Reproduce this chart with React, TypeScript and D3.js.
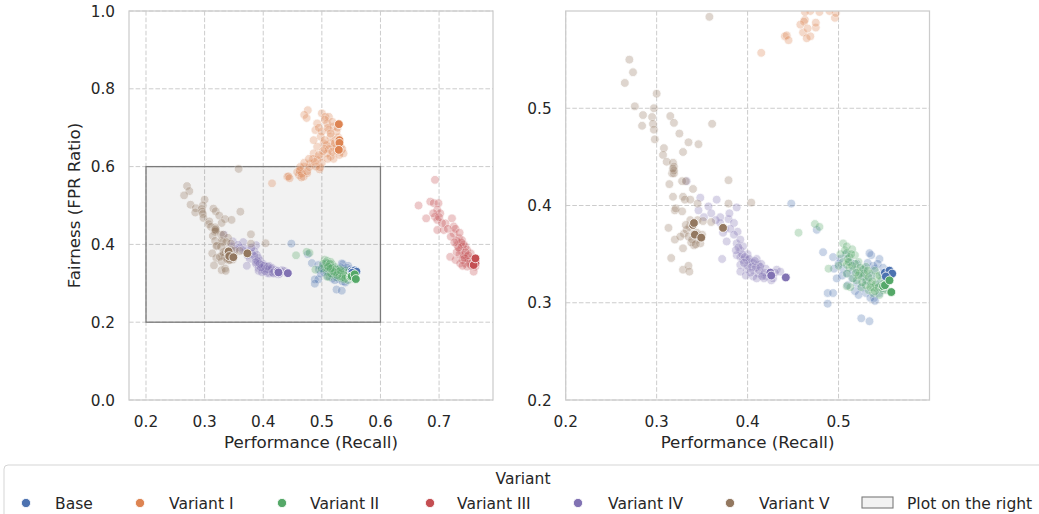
import React from "react";
import * as d3 from "d3";

type P = [number, number];

const variants = ["Base", "Variant I", "Variant II", "Variant III", "Variant IV", "Variant V"];
const colors = ["#4C72B0", "#DD8452", "#55A868", "#C44E52", "#8172B3", "#937860"];

const baseRuns: P[] = [
  [0.448,0.402],[0.476,0.375],[0.483,0.352],[0.494,0.347],[0.488,0.310],[0.494,0.310],[0.488,0.299],
  [0.525,0.284],[0.534,0.281],[0.536,0.349],[0.539,0.305],[0.500,0.340],[0.505,0.335],[0.510,0.330],
  [0.515,0.325],[0.520,0.320],[0.525,0.315],[0.530,0.310],[0.535,0.305],[0.540,0.302],[0.545,0.310],
  [0.545,0.345],[0.540,0.335],[0.548,0.330],[0.520,0.340],[0.528,0.335],[0.513,0.342],[0.502,0.345],
  [0.495,0.335],[0.498,0.325],[0.510,0.318],[0.518,0.312],[0.530,0.322],[0.536,0.328],[0.545,0.320],
  [0.550,0.315],[0.525,0.328],[0.508,0.350],[0.534,0.351],[0.538,0.338],[0.522,0.308],[0.543,0.340],
  [0.549,0.336],[0.532,0.341],[0.516,0.333],[0.504,0.328],
];
const variant1Runs: P[] = [
  [0.476,0.745],[0.470,0.733],[0.474,0.725],[0.500,0.737],[0.506,0.728],[0.512,0.728],[0.509,0.711],
  [0.492,0.711],[0.489,0.694],[0.512,0.694],[0.520,0.703],[0.515,0.677],[0.498,0.677],[0.503,0.660],
  [0.492,0.651],[0.520,0.651],[0.532,0.651],[0.532,0.638],[0.537,0.634],[0.509,0.634],[0.498,0.626],
  [0.515,0.626],[0.486,0.634],[0.492,0.617],[0.480,0.608],[0.469,0.600],[0.463,0.591],[0.475,0.583],
  [0.461,0.578],[0.469,0.574],[0.441,0.574],[0.415,0.557],[0.496,0.593],[0.523,0.668],[0.486,0.668],
  [0.443,0.575],[0.445,0.570],[0.458,0.586],[0.462,0.589],[0.466,0.582],[0.475,0.588],[0.465,0.572],
  [0.497,0.598],[0.463,0.599],[0.479,0.599],[0.500,0.690],[0.505,0.645],[0.525,0.640],[0.515,0.660],
  [0.528,0.675],[0.525,0.690],[0.510,0.700],[0.495,0.700],[0.485,0.620],[0.470,0.610],[0.520,0.620],
  [0.530,0.630],[0.535,0.645],[0.500,0.610],[0.490,0.600],[0.508,0.655],[0.512,0.645],[0.518,0.638],
  [0.522,0.660],[0.505,0.668],[0.515,0.685],[0.502,0.640],[0.495,0.630],[0.525,0.650],[0.510,0.620],
  [0.488,0.612],[0.478,0.620],[0.527,0.700],[0.505,0.720],[0.518,0.715],
];
const variant2Runs: P[] = [
  [0.456,0.372],[0.474,0.381],[0.479,0.378],[0.489,0.335],[0.505,0.361],[0.509,0.358],[0.509,0.351],
  [0.512,0.347],[0.518,0.349],[0.505,0.342],[0.509,0.339],[0.512,0.336],[0.520,0.334],[0.523,0.330],
  [0.527,0.327],[0.531,0.323],[0.536,0.320],[0.538,0.316],[0.542,0.315],[0.549,0.313],[0.509,0.330],
  [0.520,0.323],[0.525,0.316],[0.533,0.313],[0.538,0.310],[0.545,0.308],[0.527,0.334],[0.534,0.330],
  [0.542,0.327],[0.547,0.323],[0.513,0.316],[0.509,0.317],[0.500,0.338],[0.502,0.350],[0.515,0.355],
  [0.522,0.342],[0.530,0.337],[0.540,0.333],[0.547,0.318],[0.553,0.313],[0.516,0.325],[0.530,0.318],
  [0.545,0.328],[0.510,0.345],[0.507,0.354],[0.514,0.350],[0.518,0.340],[0.524,0.336],[0.528,0.330],
  [0.533,0.326],[0.537,0.322],[0.541,0.319],[0.544,0.316],[0.522,0.328],[0.519,0.331],[0.526,0.321],
  [0.535,0.316],[0.540,0.312],[0.515,0.338],[0.511,0.342],[0.532,0.333],[0.548,0.315],[0.550,0.320],
];
const variant3Runs: P[] = [
  [0.693,0.566],[0.665,0.500],[0.685,0.510],[0.691,0.506],[0.699,0.506],[0.697,0.489],[0.702,0.480],
  [0.678,0.467],[0.693,0.471],[0.697,0.463],[0.711,0.454],[0.697,0.437],[0.708,0.437],[0.722,0.467],
  [0.725,0.446],[0.725,0.428],[0.734,0.416],[0.739,0.411],[0.731,0.398],[0.739,0.394],[0.745,0.394],
  [0.748,0.386],[0.736,0.386],[0.719,0.368],[0.728,0.360],[0.742,0.368],[0.748,0.368],[0.754,0.360],
  [0.756,0.351],[0.745,0.351],[0.736,0.351],[0.748,0.343],[0.762,0.343],[0.759,0.330],[0.754,0.377],
  [0.742,0.373],[0.730,0.410],[0.720,0.420],[0.735,0.375],[0.750,0.355],[0.755,0.345],[0.740,0.360],
  [0.730,0.380],[0.745,0.380],[0.715,0.440],[0.705,0.455],[0.690,0.480],[0.700,0.470],[0.728,0.440],
  [0.735,0.430],[0.742,0.400],[0.738,0.405],[0.750,0.372],[0.744,0.364],[0.752,0.350],[0.758,0.356],
  [0.740,0.345],[0.733,0.392],[0.726,0.405],
];
const variant4Runs: P[] = [
  [0.333,0.425],[0.348,0.408],[0.366,0.406],[0.388,0.398],[0.357,0.399],[0.370,0.388],[0.379,0.386],
  [0.385,0.382],[0.389,0.373],[0.370,0.382],[0.375,0.376],[0.381,0.376],[0.373,0.372],[0.377,0.363],
  [0.372,0.345],[0.388,0.361],[0.392,0.354],[0.388,0.349],[0.392,0.347],[0.395,0.344],[0.399,0.344],
  [0.403,0.342],[0.406,0.341],[0.412,0.339],[0.392,0.339],[0.399,0.335],[0.406,0.334],[0.412,0.330],
  [0.417,0.329],[0.421,0.327],[0.426,0.323],[0.406,0.327],[0.392,0.332],[0.432,0.334],[0.436,0.332],
  [0.395,0.358],[0.400,0.350],[0.410,0.345],[0.415,0.340],[0.420,0.335],[0.425,0.330],[0.400,0.338],
  [0.413,0.333],[0.418,0.325],[0.428,0.325],[0.410,0.325],[0.398,0.328],[0.392,0.365],[0.385,0.370],
  [0.380,0.392],[0.360,0.392],[0.365,0.385],[0.346,0.395],[0.352,0.388],[0.390,0.357],[0.394,0.350],
  [0.397,0.347],[0.402,0.345],[0.405,0.337],[0.409,0.336],[0.403,0.331],[0.414,0.337],[0.419,0.331],
  [0.423,0.330],[0.408,0.343],[0.396,0.341],[0.416,0.327],[0.427,0.328],[0.430,0.331],[0.387,0.354],
];
const variant5Runs: P[] = [
  [0.358,0.594],[0.270,0.550],[0.274,0.537],[0.265,0.526],[0.300,0.515],[0.276,0.502],[0.297,0.500],
  [0.285,0.493],[0.295,0.491],[0.284,0.482],[0.296,0.484],[0.297,0.478],[0.298,0.468],[0.315,0.492],
  [0.319,0.485],[0.361,0.484],[0.325,0.474],[0.335,0.465],[0.346,0.463],[0.308,0.459],[0.307,0.452],
  [0.329,0.455],[0.311,0.445],[0.318,0.444],[0.319,0.440],[0.317,0.433],[0.319,0.433],[0.314,0.422],
  [0.328,0.425],[0.332,0.425],[0.340,0.417],[0.379,0.426],[0.318,0.409],[0.329,0.409],[0.331,0.406],
  [0.337,0.406],[0.345,0.402],[0.379,0.402],[0.404,0.403],[0.320,0.395],[0.321,0.397],[0.328,0.394],
  [0.337,0.385],[0.345,0.385],[0.351,0.384],[0.360,0.383],[0.313,0.377],[0.320,0.365],[0.330,0.371],
  [0.333,0.375],[0.335,0.368],[0.341,0.371],[0.345,0.365],[0.348,0.361],[0.341,0.359],[0.329,0.356],
  [0.316,0.346],[0.329,0.334],[0.335,0.338],[0.336,0.332],[0.338,0.362],[0.344,0.372],[0.350,0.370],
  [0.336,0.378],[0.326,0.368],[0.319,0.436],[0.318,0.438],[0.332,0.380],[0.339,0.365],[0.343,0.360],
];

const baseFinal: P[] = [[0.551,0.331],[0.556,0.333],[0.559,0.330],[0.552,0.327]];
const variant1Final: P[] = [[0.529,0.709],[0.530,0.668],[0.530,0.661],[0.529,0.643]];
const variant2Final: P[] = [[0.549,0.317],[0.551,0.318],[0.556,0.323],[0.558,0.311]];
const variant3Final: P[] = [[0.762,0.355],[0.762,0.351],[0.759,0.347],[0.762,0.364]];
const variant4Final: P[] = [[0.425,0.331],[0.426,0.328],[0.442,0.326]];
const variant5Final: P[] = [[0.340,0.380],[0.341,0.382],[0.342,0.370],[0.349,0.367],[0.373,0.377]];

const allRuns = [baseRuns, variant1Runs, variant2Runs, variant3Runs, variant4Runs, variant5Runs];
const allFinal = [baseFinal, variant1Final, variant2Final, variant3Final, variant4Final, variant5Final];

const leftXTicks = [0.2, 0.3, 0.4, 0.5, 0.6, 0.7];
const leftYTicks = [0.0, 0.2, 0.4, 0.6, 0.8, 1.0];
const rightXTicks = [0.2, 0.3, 0.4, 0.5];
const rightYTicks = [0.2, 0.3, 0.4, 0.5];
const zoomBox = { x0: 0.2, x1: 0.6, y0: 0.2, y1: 0.6 };

const FONT = "DejaVu Sans, sans-serif";
const TXT = "#262626";
const R = 4.4;

function Panel({ x, y, xTicks, yTicks, clipId, showBox }: any) {
  const [x0, x1] = x.range();
  const [y1, y0] = y.range();
  const fmt = d3.format(".1f");
  return (
    <g>
      <defs>
        <clipPath id={clipId}>
          <rect x={x0} y={y0} width={x1 - x0} height={y1 - y0} />
        </clipPath>
      </defs>
      {xTicks.map((t: number) => (
        <line key={"gx" + t} x1={x(t)} x2={x(t)} y1={y0} y2={y1} stroke="#cccccc" strokeWidth={1} strokeDasharray="4.6,2" />
      ))}
      {yTicks.map((t: number) => (
        <line key={"gy" + t} x1={x0} x2={x1} y1={y(t)} y2={y(t)} stroke="#cccccc" strokeWidth={1} strokeDasharray="4.6,2" />
      ))}
      {showBox && (
        <rect x={x(zoomBox.x0)} y={y(zoomBox.y1)} width={x(zoomBox.x1) - x(zoomBox.x0)} height={y(zoomBox.y0) - y(zoomBox.y1)}
          fill="#000" fillOpacity={0.05} stroke="#7a7a7a" strokeWidth={1.3} />
      )}
      <g clipPath={`url(#${clipId})`}>
        {allRuns.map((pts, i) => pts.map((p, j) => (
          <circle key={`r${i}-${j}`} cx={x(p[0])} cy={y(p[1])} r={R} fill={colors[i]} stroke="#fff" strokeWidth={0.8} opacity={0.3} />
        )))}
        {allFinal.map((pts, i) => pts.map((p, j) => (
          <circle key={`f${i}-${j}`} cx={x(p[0])} cy={y(p[1])} r={R} fill={colors[i]} stroke="#fff" strokeWidth={0.8} />
        )))}
      </g>
      <rect x={x0} y={y0} width={x1 - x0} height={y1 - y0} fill="none" stroke="#cccccc" strokeWidth={1.25} />
      {xTicks.map((t: number) => (
        <text key={"tx" + t} x={x(t)} y={426.5} textAnchor="middle" fontFamily={FONT} fontSize={15.3} fill={TXT}>{fmt(t)}</text>
      ))}
      {yTicks.map((t: number) => (
        <text key={"ty" + t} x={x0 - 14} y={y(t)} dy="0.36em" textAnchor="end" fontFamily={FONT} fontSize={15.3} fill={TXT}>{fmt(t)}</text>
      ))}
      <text x={(x0 + x1) / 2} y={448} textAnchor="middle" fontFamily={FONT} fontSize={16.7} fill={TXT}>Performance (Recall)</text>
    </g>
  );
}

export default function App() {
  const xL = d3.scaleLinear().domain([0.171, 0.792]).range([129, 493]);
  const yL = d3.scaleLinear().domain([0, 1]).range([400, 11]);
  const xR = d3.scaleLinear().domain([0.2, 0.6]).range([565.7, 929.5]);
  const yR = d3.scaleLinear().domain([0.2, 0.6]).range([400, 11]);

  const legendDots = [26, 140, 282, 430, 578, 730];
  const legendText = [55, 169, 310, 457, 608, 759];
  const ly = 503;

  return (
    <svg width={1039} height={514} style={{ position: "absolute", left: 0, top: 0 }} xmlns="http://www.w3.org/2000/svg">
      <rect width={1039} height={514} fill="#fff" />
      <Panel x={xL} y={yL} xTicks={leftXTicks} yTicks={leftYTicks} clipId="clipL" showBox={true} />
      <Panel x={xR} y={yR} xTicks={rightXTicks} yTicks={rightYTicks} clipId="clipR" showBox={false} />
      <text transform={`translate(80,205.5) rotate(-90)`} textAnchor="middle" fontFamily={FONT} fontSize={16.7} fill={TXT}>Fairness (FPR Ratio)</text>

      <rect x={4} y={465} width={1060} height={70} rx={4} fill="#fff" stroke="#d5d5d5" strokeWidth={1} />
      <text x={523} y={478} dy="0.36em" textAnchor="middle" fontFamily={FONT} fontSize={15.5} fill={TXT}>Variant</text>
      {variants.map((v, i) => (
        <g key={v}>
          <circle cx={legendDots[i]} cy={ly} r={4.6} fill={colors[i]} stroke="#fff" strokeWidth={0.8} />
          <text x={legendText[i]} y={ly} dy="0.36em" fontFamily={FONT} fontSize={15.5} fill={TXT}>{v}</text>
        </g>
      ))}
      <rect x={862} y={497} width={31} height={11} fill="#000" fillOpacity={0.05} stroke="#7a7a7a" strokeWidth={1.1} />
      <text x={907} y={ly} dy="0.36em" fontFamily={FONT} fontSize={15.5} fill={TXT}>Plot on the right</text>
    </svg>
  );
}
